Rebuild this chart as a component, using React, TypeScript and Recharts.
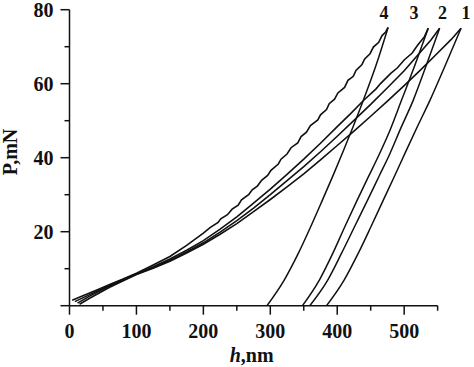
import React from 'react';
import { LineChart, Line, XAxis, YAxis, ReferenceLine, ReferenceDot } from 'recharts';

// Loading branches (h in nm, P in mN)
const load4H = [4, 20, 40, 60, 80, 100, 125, 150, 175, 200, 210, 222, 226, 236, 243, 252, 257, 268, 273, 281, 287, 296, 301, 312, 316, 325, 331, 341, 346, 354, 360, 371, 375, 384, 388, 396, 401, 411, 416, 424, 428, 437, 441, 449, 454, 462, 467, 472, 476];
const load4P = [1.5, 2.7, 4.2, 5.7, 7.2, 8.8, 11.0, 13.3, 16.3, 19.6, 21.1, 22.5, 23.5, 24.6, 26.1, 27.2, 28.6, 30.1, 31.3, 32.4, 33.9, 35.2, 36.6, 38.3, 39.6, 41.0, 42.7, 44.0, 45.7, 46.9, 48.7, 50.2, 51.6, 53.0, 54.6, 55.8, 57.5, 59.0, 60.9, 62.0, 63.6, 65.2, 66.7, 68.1, 69.9, 71.2, 73.0, 73.9, 75.2];

const load3H = [8, 30, 60, 100, 125, 150, 175, 200, 225, 250, 275, 300, 325, 350, 375, 400, 420, 440, 458, 465, 480, 490, 500, 512, 520, 530, 536];
const load3P = [1.1, 3.0, 5.5, 8.6, 10.5, 12.6, 15.0, 17.6, 20.7, 24.0, 27.7, 31.5, 35.5, 39.6, 43.9, 48.4, 51.9, 55.6, 58.6, 60.1, 62.8, 64.3, 66.4, 68.3, 70.4, 72.6, 75.0];

const load2H = [12, 30, 60, 100, 125, 150, 175, 200, 225, 250, 275, 300, 325, 350, 375, 400, 425, 450, 475, 500, 525, 540, 553];
const load2P = [0.7, 2.6, 5.3, 8.5, 10.3, 12.2, 14.5, 17.0, 19.9, 23.0, 26.4, 30.0, 33.8, 37.6, 41.6, 45.8, 50.1, 54.4, 58.9, 63.5, 68.7, 71.8, 75.0];

const load1H = [15, 30, 60, 100, 125, 150, 175, 200, 225, 250, 275, 300, 325, 350, 375, 400, 425, 450, 475, 500, 525, 550, 570, 585];
const load1P = [0.4, 2.0, 5.0, 8.4, 10.1, 12.0, 14.2, 16.6, 19.3, 22.2, 25.4, 28.7, 32.1, 35.6, 39.4, 43.3, 47.2, 51.2, 55.3, 59.5, 63.8, 68.3, 71.9, 75.0];

// Unloading branches
const unload4H = [295, 321, 342, 360.5, 378, 394.5, 409.5, 424, 439, 459, 476];
const unload4P = [0, 7, 14.2, 21.4, 28.6, 35.5, 42, 48.5, 55.5, 65.5, 75.2];

const unload3H = [348, 373.5, 393.5, 411.5, 430, 447, 463, 479, 496, 516, 536];
const unload3P = [0, 7, 14.2, 21.4, 28.6, 35, 41, 47.5, 55.5, 65, 75];

const unload2H = [359, 386, 406.5, 426, 445.5, 462.5, 478.5, 495, 513.5, 533.5, 553];
const unload2P = [0, 7, 14.2, 21.4, 28.6, 35, 41, 48, 55.5, 65.2, 75];

const unload1H = [384, 410.5, 431.5, 450.5, 469, 485.5, 502, 520, 538.5, 561.5, 585];
const unload1P = [0, 7, 14.2, 21.4, 28.6, 35, 41.5, 48.5, 55.5, 65, 75];

const curveNames = ['4', '3', '2', '1'];
const curveLabelH = [469.8, 514.6, 557.2, 592.3];
const curveLabelP = 79;

const xTicks = [0, 50, 100, 150, 200, 250, 300, 350, 400, 450, 500, 550];
const yTicks = [0, 10, 20, 30, 40, 50, 60, 70, 80];

const zip = (hs: number[], ps: number[]) => hs.map((h, i) => ({ h, P: ps[i] }));

const loads = [zip(load4H, load4P), zip(load3H, load3P), zip(load2H, load2P), zip(load1H, load1P)];
const unloads = [zip(unload4H, unload4P), zip(unload3H, unload3P), zip(unload2H, unload2P), zip(unload1H, unload1P)];

const FONT = '"Liberation Serif", "Times New Roman", serif';
const INK = '#111';

const XTick = (props: any) => {
  const { x, y, payload } = props;
  const major = payload.value % 100 === 0;
  return (
    <g>
      <line x1={x} y1={y} x2={x} y2={y + (major ? 9 : 5)} stroke={INK} strokeWidth={1.5} />
      {major && (
        <text x={x} y={y + 32} textAnchor="middle" fontSize={20} fontWeight="bold" fontFamily={FONT} fill={INK}>
          {payload.value}
        </text>
      )}
    </g>
  );
};

const YTick = (props: any) => {
  const { x, y, payload } = props;
  const major = payload.value % 20 === 0;
  const showLabel = major && payload.value !== 0;
  return (
    <g>
      <line x1={x - (major ? 9 : 5)} y1={y} x2={x} y2={y} stroke={INK} strokeWidth={1.5} />
      {showLabel && (
        <text x={x - 16} y={y + 7} textAnchor="end" fontSize={20} fontWeight="bold" fontFamily={FONT} fill={INK}>
          {payload.value}
        </text>
      )}
    </g>
  );
};

export default function App() {
  return (
    <div style={{ position: 'absolute', left: 0, top: 0, background: '#fff' }}>
      <LineChart width={474} height={367} margin={{ top: 9.7, right: 2.9, left: 9.5, bottom: 21.3 }}>
        <XAxis
          type="number"
          dataKey="h"
          domain={[0, 600]}
          ticks={xTicks}
          interval={0}
          axisLine={false}
          tickLine={false}
          tickSize={0}
          tickMargin={0}
          tick={<XTick />}
          height={40}
          allowDataOverflow
          label={{
            content: () => (
              <text x={251.7} y={361.5} textAnchor="middle" fontSize={20} fontWeight="bold" fontFamily={FONT} fill={INK}>
                <tspan fontStyle="italic">h</tspan>,nm
              </text>
            ),
          }}
        />
        <YAxis
          type="number"
          dataKey="P"
          domain={[0, 80]}
          ticks={yTicks}
          interval={0}
          width={60}
          axisLine={{ stroke: INK, strokeWidth: 1.5 }}
          tickLine={false}
          tickSize={0}
          tickMargin={0}
          tick={<YTick />}
          allowDataOverflow
          label={{
            content: () => (
              <text
                x={16.5}
                y={152}
                transform="rotate(-90, 16.5, 152)"
                textAnchor="middle"
                fontSize={20}
                fontWeight="bold"
                fontFamily={FONT}
                fill={INK}
              >
                P,mN
              </text>
            ),
          }}
        />
        <ReferenceLine segment={[{ x: 0, y: 0 }, { x: 550, y: 0 }]} stroke={INK} strokeWidth={1.5} />
        {loads.map((d, i) => (
          <Line
            key={'l' + i}
            data={d}
            dataKey="P"
            type="linear"
            stroke={INK}
            strokeWidth={1.6}
            dot={false}
            activeDot={false}
            isAnimationActive={false}
          />
        ))}
        {unloads.map((d, i) => (
          <Line
            key={'u' + i}
            data={d}
            dataKey="P"
            type="monotone"
            stroke={INK}
            strokeWidth={1.5}
            dot={false}
            activeDot={false}
            isAnimationActive={false}
          />
        ))}
        {curveNames.map((name, i) => (
          <ReferenceDot
            key={'c' + i}
            x={curveLabelH[i]}
            y={curveLabelP}
            r={0}
            ifOverflow="visible"
            shape={(p: any) => (
              <text x={p.cx} y={p.cy + 6} textAnchor="middle" fontSize={18} fontWeight="bold" fontFamily={FONT} fill={INK}>
                {name}
              </text>
            )}
          />
        ))}
      </LineChart>
    </div>
  );
}
